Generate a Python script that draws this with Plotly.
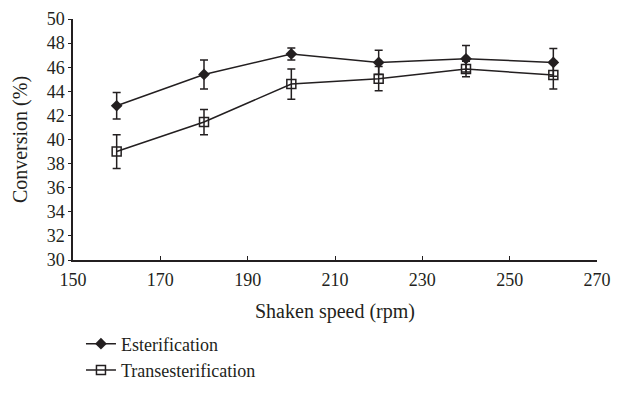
import plotly.graph_objects as go

speed = [160, 180, 200, 220, 240, 260]
ester = [42.8, 45.4, 47.1, 46.4, 46.7, 46.4]
ester_err = [1.1, 1.2, 0.5, 1.0, 1.1, 1.15]
trans = [39.0, 41.45, 44.6, 45.05, 45.85, 45.35]
trans_err = [1.4, 1.05, 1.25, 1.0, 0.65, 1.15]

x_ticks = [150, 170, 190, 210, 230, 250, 270]
y_ticks = list(range(30, 51, 2))

ink = "#231f20"
font_family = "Liberation Serif, Times New Roman, serif"

fig = go.Figure()
fig.add_trace(go.Scatter(
    x=speed, y=ester, name="Esterification", mode="lines+markers",
    line=dict(color=ink, width=1.5),
    marker=dict(symbol="diamond", size=9, color=ink),
    error_y=dict(type="data", array=ester_err, visible=True, color=ink, thickness=1.5, width=4),
))
fig.add_trace(go.Scatter(
    x=speed, y=trans, name="Transesterification", mode="lines+markers",
    line=dict(color=ink, width=1.5),
    marker=dict(symbol="square-open", size=9, color=ink, line=dict(width=1.5)),
    error_y=dict(type="data", array=trans_err, visible=True, color=ink, thickness=1.5, width=4),
))

fig.update_layout(
    width=603, height=377,
    margin=dict(l=65, r=14, t=11, b=125, autoexpand=False),
    paper_bgcolor="white", plot_bgcolor="white",
    font=dict(family=font_family, size=18, color=ink),
    showlegend=True,
    legend=dict(
        xref="container", yref="container",
        x=0.121, y=0.158, xanchor="left", yanchor="top",
        font=dict(size=18), tracegroupgap=0, itemwidth=30,
        bgcolor="rgba(0,0,0,0)",
    ),
    xaxis=dict(
        range=[150, 270], tickvals=x_ticks, showgrid=False, zeroline=False,
        showline=True, linecolor=ink, linewidth=1.5, ticks="inside", ticklen=4,
        tickcolor=ink, tickwidth=1.2, tickfont=dict(size=18), ticklabelstandoff=3,
    ),
    yaxis=dict(
        range=[30, 50], tickvals=y_ticks, showgrid=False, zeroline=False,
        showline=True, linecolor=ink, linewidth=1.5, ticks="outside", ticklen=3,
        tickcolor=ink, tickwidth=1.2, tickfont=dict(size=18),
    ),
    annotations=[
        dict(text="Shaken speed (rpm)", xref="paper", yref="paper", x=0.5, y=-0.212,
             xanchor="center", yanchor="middle", showarrow=False, font=dict(size=20)),
        dict(text="Conversion (%)", xref="paper", yref="paper", x=-0.1, y=0.5,
             xanchor="center", yanchor="middle", textangle=-90, showarrow=False, font=dict(size=20)),
    ],
)

fig.write_html("out.html")
